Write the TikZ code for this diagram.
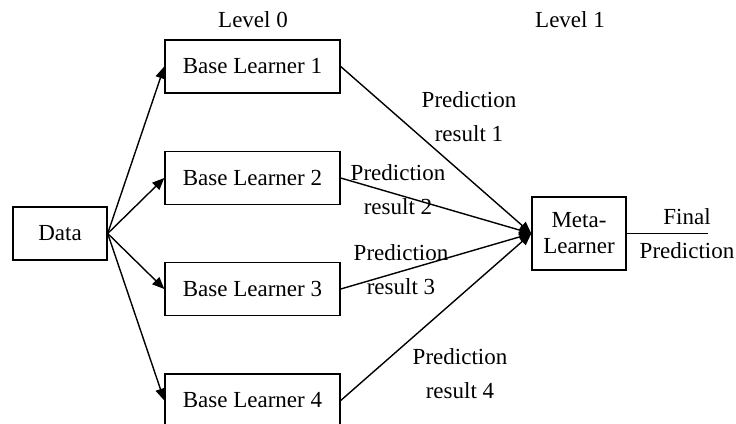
\documentclass[tikz,border=0pt]{standalone}
\usepackage{fontspec}
\setmainfont{Liberation Serif}
\usetikzlibrary{arrows.meta}
\begin{document}
\begin{tikzpicture}[x=1pt,y=-1pt,
  txt/.style={font=\fontsize{23}{34}\selectfont, inner sep=0pt, align=center},
  box/.style={draw, line width=1.4pt, font=\fontsize{23}{26}\selectfont, align=center, inner sep=0pt},
  learner/.style={box, minimum width=175pt, minimum height=53pt},
  link/.style={line width=1.4pt, -{Triangle[length=12pt,width=10pt]}}
]
\clip (0,0) rectangle (736,423);
\fill[white] (0,0) rectangle (736,423);

% column headings
\node[txt] (lv0) at (253,20) {Level 0};
\node[txt] (lv1) at (570,20) {Level 1};

% input, base learners and meta-learner
\node[box, minimum width=94pt, minimum height=53pt] (data) at (60,233.5) {Data};
\node[learner] (bl1) at (252.5,66.5) {Base Learner 1};
\node[learner] (bl2) at (252.5,178) {Base Learner 2};
\node[learner] (bl3) at (252.5,289) {Base Learner 3};
\node[learner] (bl4) at (252.5,400.5) {Base Learner 4};
\node[box, minimum width=94pt, minimum height=73pt] (meta) at (579,233.5) {Meta-\\Learner};
\coordinate (out) at (708,233.5);

% data fed to each base learner
\foreach \b in {bl1,bl2,bl3,bl4}
  \draw[link] (data.east) -- (\b.west);

% predictions passed to the meta-learner
\foreach \b in {bl1,bl2,bl3,bl4}
  \draw[link] (\b.east) -- (meta.west);

\draw[line width=1.4pt] (meta.east) -- (out);

% labels
\node[txt] (p1) at (469,117) {Prediction\\result 1};
\node[txt] (p2) at (398,190) {Prediction\\result 2};
\node[txt] (p3) at (401,270) {Prediction\\result 3};
\node[txt] (p4) at (460,374) {Prediction\\result 4};
\node[txt] (fp) at (687,234) {Final\\Prediction};
\end{tikzpicture}
\end{document}
